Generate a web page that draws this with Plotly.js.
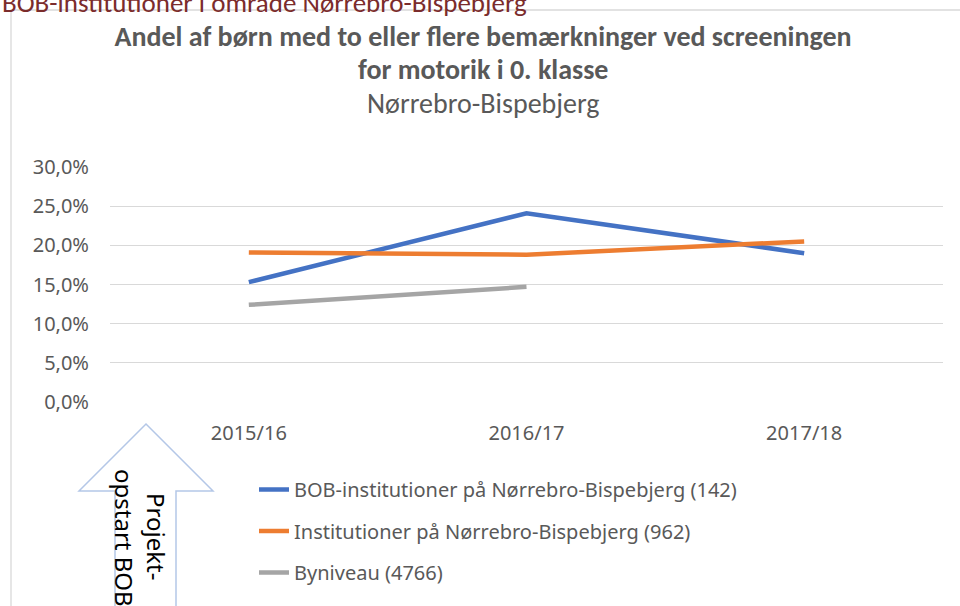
<!DOCTYPE html>
<html>
<head>
<meta charset="utf-8">
<script src="https://cdn.plot.ly/plotly-3.0.1.min.js"></script>
<style>html,body{margin:0;padding:0;background:#fff;}#chart{width:960px;height:606px;}</style>
</head>
<body>
<div id="chart"></div>
<script>
// ---- data ----
const categories = ["2015/16", "2016/17", "2017/18"];
const seriesNames = [
  "BOB-institutioner på Nørrebro-Bispebjerg (142)",
  "Institutioner på Nørrebro-Bispebjerg (962)",
  "Byniveau (4766)"
];
const bobValues = [0.153, 0.241, 0.190];
const nbValues = [0.191, 0.188, 0.205];
const cityValues = [0.124, 0.147, null];
const yTickValues = [0, 0.05, 0.10, 0.15, 0.20, 0.25, 0.30];

// ---- layout helpers ----
const W = 960, H = 606;
const M = {l: 110, r: 17, t: 167, b: 204};
const PW = W - M.l - M.r, PH = H - M.t - M.b;
const px = v => (v - M.l) / PW;
const py = v => (H - M.b - v) / PH;

const LABEL = "#595959";
const TFONT = "Carlito, 'Liberation Sans Narrow', 'Open Sans', sans-serif";
const BFONT = "'Noto Sans', 'Open Sans', sans-serif";

const colors = ["#4472C4", "#ED7D31", "#A5A5A5"];
const vals = [bobValues, nbValues, cityValues];
const traces = vals.map((v, i) => ({
  type: "scatter", mode: "lines", x: categories, y: v, name: seriesNames[i],
  line: {color: colors[i], width: 4.5}, legendgroup: "g" + i,
  connectgaps: false, hoverinfo: "x+y"
}));

// arrow outline (decoration)
const arrowPts = [[146,424],[213,491],[176,491],[176,640],[115,640],[115,491],[79,491]];
const arrowPath = "M" + arrowPts.map(p => px(p[0]) + "," + py(p[1])).join(" L") + " Z";

const layout = {
  width: W, height: H,
  margin: M,
  paper_bgcolor: "#fff", plot_bgcolor: "#fff",
  separators: ",.",
  showlegend: true,
  title: {
    text: "<b>Andel af børn med to eller flere bemærkninger ved screeningen</b>",
    font: {family: TFONT, size: 28, color: LABEL},
    x: 483 / W, xanchor: "center", xref: "container",
    y: 1 - 36 / H, yanchor: "middle", yref: "container"
  },
  xaxis: {
    type: "category", range: [-0.5, 2.5], showgrid: false, zeroline: false,
    showline: false, ticks: "", fixedrange: true,
    tickfont: {family: BFONT, size: 20, color: LABEL},
    ticklabelstandoff: 17
  },
  yaxis: {
    range: [0, 0.30], tickvals: yTickValues, tickformat: ".1%",
    showgrid: true, gridcolor: "#d9d9d9", gridwidth: 1.3,
    zeroline: false, showline: false, ticks: "", fixedrange: true,
    tickfont: {family: BFONT, size: 20, color: LABEL},
    ticklabelstandoff: 20
  },
  legend: {
    x: px(254), xanchor: "left", y: py(470), yanchor: "top",
    traceorder: "grouped", tracegroupgap: 12.5,
    font: {family: BFONT, size: 20, color: LABEL},
    bgcolor: "rgba(0,0,0,0)"
  },
  shapes: [
    {type: "rect", xref: "paper", yref: "paper",
     x0: px(11), x1: px(975), y0: py(10), y1: py(640),
     line: {color: "#d9d9d9", width: 1.3}, fillcolor: "rgba(0,0,0,0)", layer: "below"},
    {type: "path", xref: "paper", yref: "paper", path: arrowPath,
     line: {color: "#B4C7E7", width: 1.5}, fillcolor: "#fff", layer: "above"}
  ],
  annotations: [
    {text: "BOB-institutioner i område Nørrebro-Bispebjerg", xref: "paper", yref: "paper",
     x: px(0), y: py(2), xanchor: "left", yanchor: "middle", showarrow: false,
     font: {family: TFONT, size: 27, color: "#7B2C2C"}},
    {text: "<b>for motorik i 0. klasse</b>", xref: "paper", yref: "paper",
     x: px(483), y: py(69), xanchor: "center", yanchor: "middle", showarrow: false,
     font: {family: TFONT, size: 28, color: LABEL}},
    {text: "Nørrebro-Bispebjerg", xref: "paper", yref: "paper",
     x: px(483), y: py(104), xanchor: "center", yanchor: "middle", showarrow: false,
     font: {family: TFONT, size: 28, color: LABEL}},
    {text: "Projekt-", xref: "paper", yref: "paper", textangle: 90,
     x: px(157), y: py(536), xanchor: "center", yanchor: "middle", showarrow: false,
     font: {family: BFONT, size: 24, color: "#000"}},
    {text: "opstart BOB", xref: "paper", yref: "paper", textangle: 90,
     x: px(125), y: py(538), xanchor: "center", yanchor: "middle", showarrow: false,
     font: {family: BFONT, size: 24, color: "#000"}}
  ]
};

Plotly.newPlot("chart", traces, layout, {displayModeBar: false, staticPlot: true});
</script>
</body>
</html>
